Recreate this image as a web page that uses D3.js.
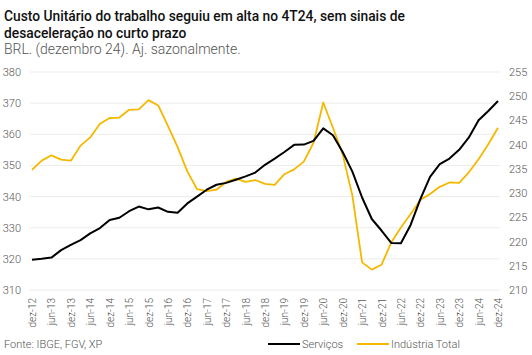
<!DOCTYPE html>
<html><head><meta charset="utf-8">
<script src="https://cdn.jsdelivr.net/npm/d3@7"></script>
<style>
body{margin:0;background:#fff;}
svg{display:block;font-family:Roboto,"Noto Sans",sans-serif;}
</style></head>
<body><svg id="c" width="532" height="355"></svg>
<script>
const titleLines = ["Custo Unitário do trabalho seguiu em alta no 4T24, sem sinais de", "desaceleração no curto prazo"];
const subtitle = "BRL. (dezembro 24). Aj. sazonalmente.";
const source = "Fonte: IBGE, FGV, XP";
const seriesNames = ["Serviços", "Indústria Total"];
const quarters = ["dez-12","mar-13","jun-13","set-13","dez-13","mar-14","jun-14","set-14","dez-14","mar-15","jun-15","set-15","dez-15","mar-16","jun-16","set-16","dez-16","mar-17","jun-17","set-17","dez-17","mar-18","jun-18","set-18","dez-18","mar-19","jun-19","set-19","dez-19","mar-20","jun-20","set-20","dez-20","mar-21","jun-21","set-21","dez-21","mar-22","jun-22","set-22","dez-22","mar-23","jun-23","set-23","dez-23","mar-24","jun-24","set-24","dez-24"];
const tickLabels = quarters.filter((d,i)=>i%2===0);
const servicos = [319.7,320.0,320.4,322.8,324.5,326.0,328.2,329.9,332.5,333.2,335.3,336.8,335.9,336.5,335.1,334.8,337.8,340.0,342.2,343.8,344.4,345.4,346.5,347.7,350.2,352.2,354.3,356.6,356.7,357.9,361.9,359.7,354.3,348.0,339.7,332.8,329.1,325.1,325.0,330.9,339.2,346.3,350.4,352.2,355.0,359.0,364.5,367.5,370.7];
const industria = [234.8,236.7,237.8,236.9,236.7,239.8,241.5,244.3,245.5,245.6,247.2,247.3,249.2,248.1,243.9,239.5,234.5,230.8,230.4,230.7,232.3,233.0,232.3,232.7,231.9,231.7,233.9,234.9,236.5,240.4,248.7,243.5,238.0,229.5,215.7,214.2,215.2,219.8,222.9,225.7,228.6,229.8,231.3,232.2,232.1,234.3,237.0,240.1,243.5];
const leftTicks = [310,320,330,340,350,360,370,380];
const rightTicks = [210,215,220,225,230,235,240,245,250,255];

const svg = d3.select("#c");
const x = d3.scalePoint().domain(quarters).range([32,498]);
const yL = d3.scaleLinear().domain([310,380]).range([290,72]);
const yR = d3.scaleLinear().domain([210,255]).range([290,72]);

// title
svg.append("text").attr("x",4).attr("y",21).attr("font-size",13.8).attr("font-weight",500).attr("fill","#111")
  .selectAll("tspan").data(titleLines).join("tspan").attr("x",4).attr("dy",(d,i)=>i?17:0).text(d=>d);
svg.append("text").attr("x",4).attr("y",54).attr("font-size",14).attr("font-weight",300).attr("fill","#555").text(subtitle);

// grid
svg.append("g").selectAll("line").data(leftTicks).join("line")
  .attr("x1",30).attr("x2",500).attr("y1",d=>yL(d)).attr("y2",d=>yL(d))
  .attr("stroke","#ececec").attr("stroke-width",1);

// left axis
const gL = svg.append("g").attr("transform","translate(21,0)")
  .call(d3.axisLeft(yL).tickValues(leftTicks).tickSize(0).tickPadding(0));
gL.select(".domain").remove();
gL.selectAll("text").attr("font-size",11).attr("font-weight",300).attr("fill","#555").attr("font-family","Roboto");
// right axis
const gR = svg.append("g").attr("transform","translate(509,0)")
  .call(d3.axisRight(yR).tickValues(rightTicks).tickSize(0).tickPadding(0));
gR.select(".domain").remove();
gR.selectAll("text").attr("font-size",11).attr("font-weight",300).attr("fill","#555").attr("font-family","Roboto");

// x axis
const gX = svg.append("g").attr("transform","translate(0,297)")
  .call(d3.axisBottom(x).tickValues(tickLabels).tickSize(0).tickPadding(0));
gX.select(".domain").remove();
gX.selectAll("text").attr("font-size",10).attr("font-weight",300).attr("fill","#555").attr("font-family","Roboto")
  .attr("transform","rotate(-90)").attr("text-anchor","end").attr("dy","0.35em").attr("x",-1).attr("y",0);

// lines
const lineL = d3.line().x((d,i)=>x(quarters[i])).y(d=>yL(d));
const lineR = d3.line().x((d,i)=>x(quarters[i])).y(d=>yR(d));
svg.append("path").attr("d",lineR(industria)).attr("fill","none").attr("stroke","#F5B800").attr("stroke-width",1.8).attr("stroke-linejoin","round");
svg.append("path").attr("d",lineL(servicos)).attr("fill","none").attr("stroke","#000").attr("stroke-width",2).attr("stroke-linejoin","round");

// source
svg.append("text").attr("x",4).attr("y",348).attr("font-size",11).attr("font-weight",300).attr("fill","#555").text(source);

// legend
const leg = [{n:seriesNames[0],c:"#000",x:268},{n:seriesNames[1],c:"#F5B800",x:357}];
const lg = svg.append("g").selectAll("g").data(leg).join("g").attr("transform",d=>`translate(${d.x},344)`);
lg.append("line").attr("x1",0).attr("x2",32).attr("y1",0).attr("y2",0).attr("stroke",d=>d.c).attr("stroke-width",2);
lg.append("text").attr("x",34).attr("y",4).attr("font-size",11).attr("font-weight",300).attr("fill","#555").text(d=>d.n);
</script></body></html>
